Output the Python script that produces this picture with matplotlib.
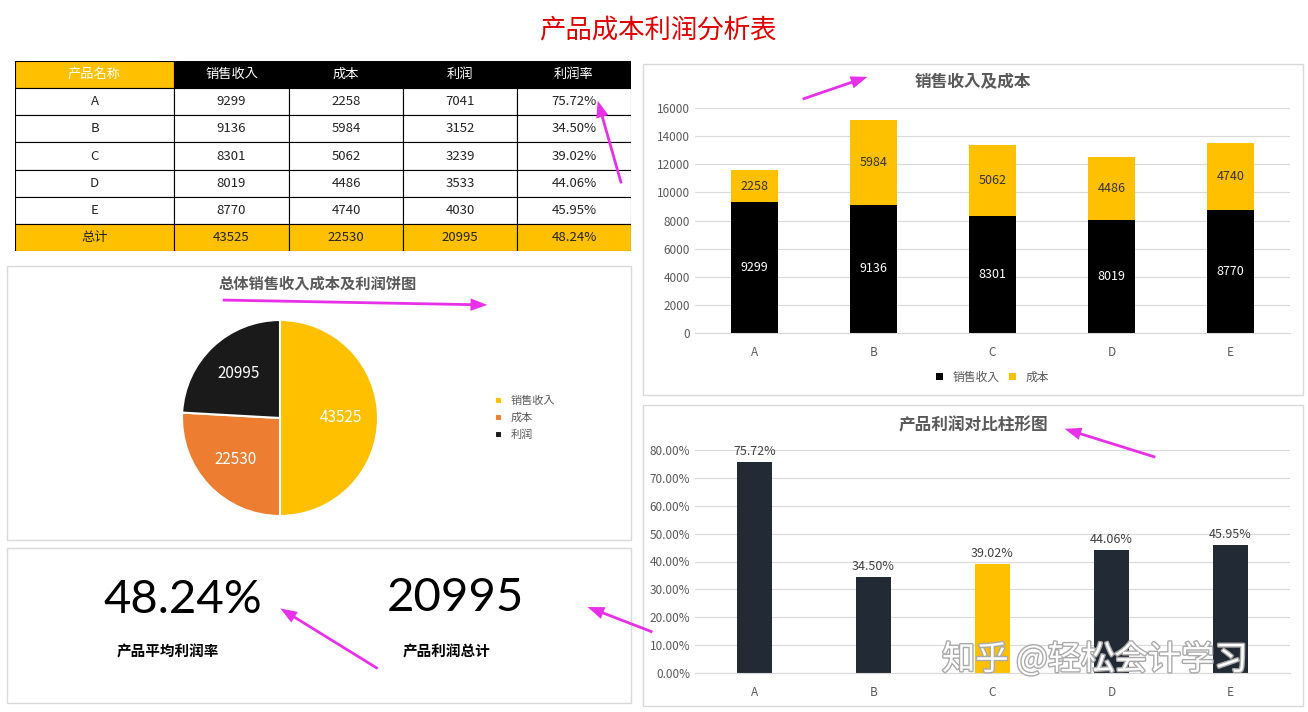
import matplotlib.pyplot as plt
import matplotlib.patheffects as pe
from matplotlib.patches import Rectangle

plt.rcParams["font.family"] = ["Noto Sans CJK JP", "Noto Sans CJK SC", "DejaVu Sans"]

W, H = 1308, 712
products = ["A", "B", "C", "D", "E"]
revenue = [9299, 9136, 8301, 8019, 8770]
cost = [2258, 5984, 5062, 4486, 4740]
profit = [7041, 3152, 3239, 3533, 4030]
margin = [75.72, 34.50, 39.02, 44.06, 45.95]
total_revenue, total_cost, total_profit, total_margin = 43525, 22530, 20995, 48.24
headers = ["产品名称", "销售收入", "成本", "利润", "利润率"]

GOLD = "#FFC000"
ORANGE = "#ED7D31"
DARK = "#222A35"
MAGENTA = "#E830E8"
GRID = "#D9D9D9"


def px(x0, y0, x1, y1):
    return [x0 / W, 1 - y1 / H, (x1 - x0) / W, (y1 - y0) / H]


fig = plt.figure(figsize=(W / 100, H / 100), dpi=100)
fig.text(658 / W, 1 - 30 / H, "产品成本利润分析表", color="#E00000", fontsize=19,
         ha="center", va="center")

# panel frames
for box in [(7, 266, 631, 540), (7, 548, 631, 703), (643, 64, 1303, 395), (643, 405, 1303, 706)]:
    fig.patches.append(Rectangle((box[0] / W, 1 - box[3] / H), (box[2] - box[0]) / W,
                                 (box[3] - box[1]) / H, transform=fig.transFigure,
                                 fill=False, edgecolor=GRID, linewidth=1))

# table
tax = fig.add_axes(px(15, 61, 631, 251))
cols = [15, 174, 289, 403, 517, 631]
rows = [headers] + [[p, str(r), str(c), str(pr), f"{m:.2f}%"]
                    for p, r, c, pr, m in zip(products, revenue, cost, profit, margin)]
rows.append(["总计", str(total_revenue), str(total_cost), str(total_profit), f"{total_margin:.2f}%"])
tax.set_xlim(15, 631)
tax.set_ylim(len(rows), 0)
tax.axis("off")
for i, row in enumerate(rows):
    for j, val in enumerate(row):
        if i == 0:
            fc, tc = (GOLD if j == 0 else "black"), "white"
        elif i == len(rows) - 1:
            fc, tc = GOLD, "#222222"
        else:
            fc, tc = "white", "#222222"
        tax.add_patch(Rectangle((cols[j], i), cols[j + 1] - cols[j], 1, facecolor=fc,
                                edgecolor="black", linewidth=0.8))
        tax.text((cols[j] + cols[j + 1]) / 2, i + 0.5, val, ha="center", va="center",
                 color=tc, fontsize=9.5)

# pie
fig.text(318 / W, 1 - 284 / H, "总体销售收入成本及利润饼图", fontsize=11, fontweight="bold",
         color="#595959", ha="center", va="center")
pax = fig.add_axes(px(182, 320, 378, 516))
pie_vals = [total_revenue, total_cost, total_profit]
pie_labels = ["销售收入", "成本", "利润"]
wedges, texts = pax.pie(pie_vals, colors=[GOLD, ORANGE, "#1A1A1A"], startangle=90,
                        counterclock=False, labels=[str(v) for v in pie_vals],
                        labeldistance=0.62, wedgeprops={"edgecolor": "white", "linewidth": 1.5},
                        textprops={"color": "white", "fontsize": 11})
for t in texts:
    t.set_horizontalalignment("center")
pax.set_xlim(-1, 1)
pax.set_ylim(-1, 1)
pax.set_aspect("equal")
fig.legend(wedges, pie_labels, loc="center left", bbox_to_anchor=(485 / W, 1 - 418 / H),
           frameon=False, fontsize=8, handlelength=0.6, handleheight=0.6, labelspacing=0.6,
           labelcolor="#595959")

# KPIs
fig.text(183 / W, 1 - 600 / H, f"{total_margin:.2f}%", fontsize=34, ha="center", va="center",
         family="Lato")
fig.text(168 / W, 1 - 652 / H, "产品平均利润率", fontsize=10.5, fontweight="bold", ha="center", va="center")
fig.text(455 / W, 1 - 598 / H, str(total_profit), fontsize=34, ha="center", va="center",
         family="Lato")
fig.text(447 / W, 1 - 651 / H, "产品利润总计", fontsize=10.5, fontweight="bold", ha="center", va="center")

# stacked bar chart
fig.text(973 / W, 1 - 82 / H, "销售收入及成本", fontsize=12, fontweight="bold",
         color="#595959", ha="center", va="center")
ax1 = fig.add_axes(px(695, 108, 1290, 333))
x = range(len(products))
b1 = ax1.bar(x, revenue, width=0.4, color="black", label="销售收入", zorder=2)
b2 = ax1.bar(x, cost, width=0.4, bottom=revenue, color=GOLD, label="成本", zorder=2)
ax1.bar_label(b1, label_type="center", color="white", fontsize=9)
ax1.bar_label(b2, label_type="center", color="#333333", fontsize=9)
ax1.set_ylim(0, 16000)
ax1.set_yticks(range(0, 16001, 2000))
ax1.set_xlim(-0.5, 4.5)
ax1.set_xticks(list(x), products)
ax1.grid(axis="y", color=GRID, linewidth=0.8, zorder=0)
for s in ax1.spines.values():
    s.set_visible(False)
ax1.spines["bottom"].set_visible(True)
ax1.spines["bottom"].set_color(GRID)
ax1.tick_params(length=0, labelsize=8.5, colors="#595959")
ax1.tick_params(axis="x", pad=9)
ax1.legend(loc="upper center", bbox_to_anchor=(0.5, -0.12), ncol=2, frameon=False,
           fontsize=8.5, handlelength=0.6, handleheight=0.6, columnspacing=0.8,
           labelcolor="#595959")

# margin bar chart
fig.text(973 / W, 1 - 425 / H, "产品利润对比柱形图", fontsize=12, fontweight="bold",
         color="#595959", ha="center", va="center")
ax2 = fig.add_axes(px(695, 450, 1290, 673))
colors2 = [GOLD if p == "C" else DARK for p in products]
b3 = ax2.bar(x, margin, width=0.3, color=colors2, zorder=2)
ax2.bar_label(b3, labels=[f"{m:.2f}%" for m in margin], padding=3, fontsize=9, color="#404040")
ax2.set_ylim(0, 80)
ax2.set_yticks(range(0, 81, 10), [f"{v:.2f}%" for v in range(0, 81, 10)])
ax2.set_xlim(-0.5, 4.5)
ax2.set_xticks(list(x), products)
ax2.grid(axis="y", color=GRID, linewidth=0.8, zorder=0)
for s in ax2.spines.values():
    s.set_visible(False)
ax2.spines["bottom"].set_visible(True)
ax2.spines["bottom"].set_color(GRID)
ax2.tick_params(length=0, labelsize=8.5, colors="#595959")
ax2.tick_params(axis="x", pad=9)

# decorative arrows
arrows = [((800, 100), (870, 76)), ((622, 186), (597, 98)), ((220, 300), (490, 305)),
          ((380, 670), (278, 607)), ((655, 633), (585, 606)), ((1158, 458), (1062, 428))]
for (sx, sy), (ex, ey) in arrows:
    fig.add_artist(plt.Annotation("", xy=(ex / W, 1 - ey / H), xytext=(sx / W, 1 - sy / H),
                                  xycoords="figure fraction",
                                  arrowprops=dict(arrowstyle="simple,head_length=1.2,head_width=0.9,tail_width=0.2",
                                                  color=MAGENTA, lw=0)))

fig.text(1095 / W, 1 - 660 / H, "知乎 @轻松会计学习", fontsize=24, color="white",
         ha="center", va="center",
         path_effects=[pe.withStroke(linewidth=2, foreground="#AAAAAA")])

fig.savefig("out.png", dpi=100, facecolor="white")
